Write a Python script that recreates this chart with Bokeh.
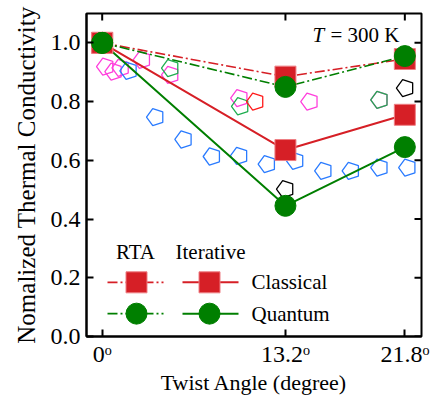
from bokeh.plotting import figure
from bokeh.models import Range1d, FixedTicker, PrintfTickFormatter
from bokeh.core.properties import value
from bokeh.embed import file_html
from bokeh.resources import INLINE

# ---- data ----
angles = [0.0, 13.2, 21.8]
tick_labels = {0: "0ᵒ", 13.2: "13.2ᵒ", 21.8: "21.8ᵒ"}
y_ticks = [0.0, 0.2, 0.4, 0.6, 0.8, 1.0]
rta_classical = [1.0, 0.885, 0.945]
rta_quantum = [1.0, 0.85, 0.955]
iter_classical = [1.0, 0.635, 0.755]
iter_quantum = [1.0, 0.445, 0.645]

mag_x = [0.24, 0.84, 1.35, 2.88, 4.92, 9.9, 14.95, 19.99]
mag_y = [0.919, 0.902, 0.915, 0.942, 0.891, 0.812, 0.80, 0.806]
grn_x = [4.92, 9.96, 19.99]
grn_y = [0.914, 0.784, 0.806]
red_x = [11.04]
red_y = [0.80]
blk_x = [13.2, 21.84]
blk_y = [0.502, 0.846]
blu_x = [1.92, 3.84, 5.88, 7.92, 9.88, 11.88, 13.92, 15.95, 17.93, 19.99, 22.0]
blu_y = [0.905, 0.747, 0.671, 0.613, 0.615, 0.587, 0.598, 0.564, 0.564, 0.575, 0.575]

RED = "#d61f26"
RED_EDGE = "#ee7f84"
GREEN = "#007f00"
FONT = "'Liberation Serif', 'Times New Roman', serif"

XMIN, XMAX, YMIN, YMAX = -1.13, 23.0, 0.0, 1.1
W, H = 430, 397
FL, FR, FT, FB = 86, 421, 13, 338   # frame edges (px)

p = figure(width=W, height=H, output_backend="svg", toolbar_location=None,
           x_range=Range1d(XMIN, XMAX), y_range=Range1d(YMIN, YMAX),
           min_border_left=FL, min_border_right=W - FR, min_border_top=FT, min_border_bottom=H - FB)
p.grid.visible = False
p.outline_line_color = "black"
p.outline_line_width = 2
p.outline_line_alpha = 1.0
p.background_fill_color = "white"
p.border_fill_color = "white"

def X(px):
    return XMIN + (px - FL) * (XMAX - XMIN) / (FR - FL)
def Y(py):
    return YMAX - (py - FT) * (YMAX - YMIN) / (FB - FT)

for ax in (p.xaxis[0], p.yaxis[0]):
    ax.axis_line_width = 2
    ax.axis_line_color = "black"
    ax.major_tick_line_width = 2
    ax.major_tick_line_color = "black"
    ax.major_tick_in = 7
    ax.major_tick_out = 0
    ax.minor_tick_in = 0
    ax.minor_tick_out = 0
    ax.major_label_text_font = FONT
    ax.major_label_text_font_size = "24px"
    ax.major_label_text_color = "black"
    ax.axis_label_text_font = FONT
    ax.axis_label_text_font_style = "normal"
    ax.axis_label_text_color = "black"

p.xaxis.ticker = FixedTicker(ticks=angles)
p.xaxis.major_label_overrides = tick_labels
p.xaxis.axis_label = "Twist Angle (degree)"
p.xaxis.axis_label_text_font_size = "22px"
p.xaxis.major_label_standoff = 4
p.xaxis.axis_label_standoff = 0
p.yaxis.ticker = FixedTicker(ticks=y_ticks)
p.yaxis.formatter = PrintfTickFormatter(format="%.1f")
p.yaxis.axis_label = "Nomalized Thermal Conductivity"
p.yaxis.axis_label_text_font_size = "25px"
p.yaxis.major_label_standoff = 6
p.yaxis.axis_label_standoff = 8

# top and right inward ticks (mirror of the axis ticks)
TL = 7
dy = TL * (YMAX - YMIN) / (FB - FT)
dx = TL * (XMAX - XMIN) / (FR - FL)
p.segment(x0=angles, y0=[YMAX] * len(angles), x1=angles, y1=[YMAX - dy] * len(angles),
          line_color="black", line_width=2)
p.segment(x0=[XMAX] * len(y_ticks), y0=y_ticks, x1=[XMAX - dx] * len(y_ticks), y1=y_ticks,
          line_color="black", line_width=2)

# ---- pentagons (other works) ----
R = 9
for xs, ys, c in [(mag_x, mag_y, "#ff3fdc"), (grn_x, grn_y, "#1fae50"), (red_x, red_y, "#ff1a1a"),
                  (blk_x, blk_y, "black"), (blu_x, blu_y, "#2a7bff")]:
    p.ngon(x=xs, y=ys, radius=R, radius_units="screen", n=5, angle=1.5708,
           fill_color=None, line_color=c, line_width=1.3)

# ---- lines ----
DASH = "10 3 2 3"
p.line(angles, rta_classical, line_color=RED, line_width=1.6, line_dash=DASH)
p.line(angles, rta_quantum, line_color=GREEN, line_width=1.6, line_dash=DASH)
p.line(angles, iter_classical, line_color=RED, line_width=2)
p.line(angles, iter_quantum, line_color=GREEN, line_width=2)
SQ = 21
CI = 21
p.scatter(angles, rta_classical, marker="square", size=SQ, fill_color=RED, line_color=RED_EDGE, line_width=1)
p.scatter(angles, iter_classical, marker="square", size=SQ, fill_color=RED, line_color=RED_EDGE, line_width=1)
p.scatter(angles, rta_quantum, marker="circle", size=CI, fill_color=GREEN, line_color=GREEN)
p.scatter(angles, iter_quantum, marker="circle", size=CI, fill_color=GREEN, line_color=GREEN)

# ---- annotation T = 300 K ----
p.text(x=[X(312)], y=[Y(35)], text=["T"], text_font=value(FONT), text_font_size=value("21px"),
       text_font_style="italic", text_baseline="alphabetic", text_align="left", text_color="black")
p.text(x=[X(330)], y=[Y(35)], text=["= 300 K"], text_font=value(FONT), text_font_size=value("21px"),
       text_baseline="alphabetic", text_align="left", text_color="black")

# ---- manual legend ----
row1, row2 = 283.5, 315
p.text(x=[X(135), X(210)], y=[Y(253)] * 2, text=["RTA", "Iterative"], text_font=value(FONT),
       text_font_size=value("21px"), text_align="center", text_baseline="middle", text_color="black")
p.text(x=[X(251), X(251)], y=[Y(row1), Y(row2)], text=["Classical", "Quantum"], text_font=value(FONT),
       text_font_size=value("21px"), text_align="left", text_baseline="middle", text_color="black")
for yy, col, mk, edge in [(row1, RED, "square", RED_EDGE), (row2, GREEN, "circle", GREEN)]:
    p.line([X(107), X(163)], [Y(yy)] * 2, line_color=col, line_width=1.6, line_dash=DASH)
    p.line([X(182), X(238)], [Y(yy)] * 2, line_color=col, line_width=2)
    p.scatter([X(136), X(209)], [Y(yy)] * 2, marker=mk, size=21, fill_color=col, line_color=edge, line_width=1)

open("out.html", "w").write(file_html(p, INLINE))
